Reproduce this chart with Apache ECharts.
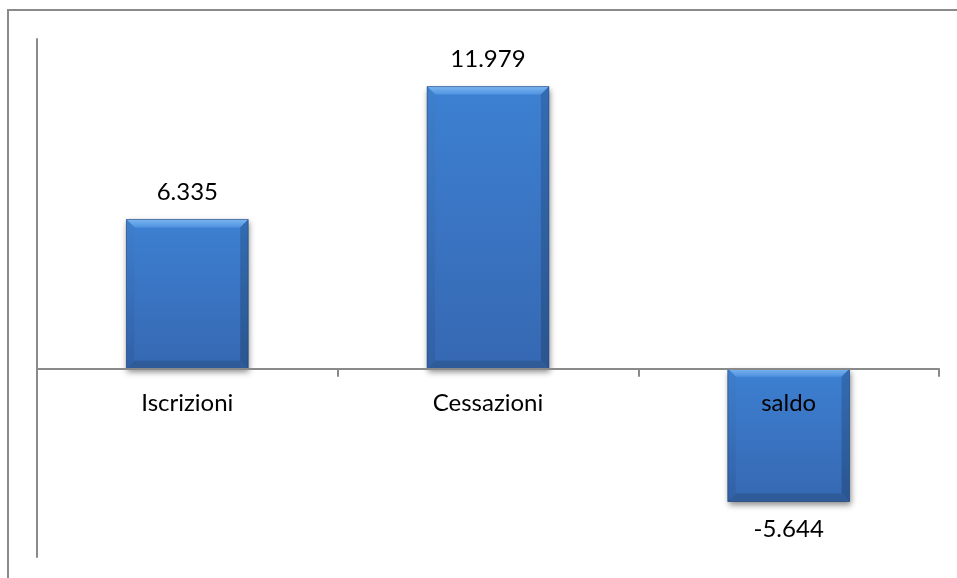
<!DOCTYPE html>
<html>
<head>
<meta charset="utf-8">
<script src="https://cdn.jsdelivr.net/npm/echarts@6/dist/echarts.min.js"></script>
<style>
html,body{margin:0;padding:0;background:#fff;}
#chart{width:957px;height:578px;}
</style>
</head>
<body>
<div id="chart"></div>
<script>
const categories = ['Iscrizioni', 'Cessazioni', 'saldo'];
const values = [6335, 11979, -5644];
const yMin = -8000;
const yMax = 14000;

function fmt(v) {
  const s = Math.abs(v).toString().replace(/\B(?=(\d{3})+(?!\d))/g, '.');
  return (v < 0 ? '-' : '') + s;
}

const FONT = 'Lato, "Open Sans", sans-serif';
const chart = echarts.init(document.getElementById('chart'));

function renderItem(params, api) {
  const ci = api.value(0);
  const v = api.value(1);
  const p0 = api.coord([ci, 0]);
  const p1 = api.coord([ci, v]);
  const w = api.size([1, 0])[0] * 0.405;
  const x0 = p0[0] - w / 2, x1 = p0[0] + w / 2;
  const yt = Math.min(p0[1], p1[1]), yb = Math.max(p0[1], p1[1]);
  const h = yb - yt;
  const b = 8;
  const children = [
    { type: 'rect', shape: { x: x0, y: yt, width: w, height: h },
      style: { fill: new echarts.graphic.LinearGradient(0, 0, 0, 1, [
        { offset: 0, color: '#3d80d2' }, { offset: 1, color: '#3668b2' }]),
        shadowColor: 'rgba(0,0,0,0.45)', shadowBlur: 6, shadowOffsetY: 3, shadowOffsetX: 1 } },
    { type: 'polygon', shape: { points: [[x0, yt], [x1, yt], [x1 - b, yt + b], [x0 + b, yt + b]] },
      style: { fill: new echarts.graphic.LinearGradient(0, 0, 0, 1, [
        { offset: 0, color: '#7ab5f0' }, { offset: 1, color: '#4f92e0' }]) } },
    { type: 'polygon', shape: { points: [[x0, yt], [x0 + b, yt + b], [x0 + b, yb - b], [x0, yb]] },
      style: { fill: new echarts.graphic.LinearGradient(0, 0, 0, 1, [
        { offset: 0, color: '#3f7fcc' }, { offset: 1, color: '#3160a6' }]) } },
    { type: 'polygon', shape: { points: [[x1, yt], [x1 - b, yt + b], [x1 - b, yb - b], [x1, yb]] },
      style: { fill: new echarts.graphic.LinearGradient(0, 0, 0, 1, [
        { offset: 0, color: '#336cb2' }, { offset: 1, color: '#2a5590' }]) } },
    { type: 'polygon', shape: { points: [[x0, yb], [x1, yb], [x1 - b, yb - b], [x0 + b, yb - b]] },
      style: { fill: '#2f5c98' } },
    { type: 'rect', shape: { x: x0, y: yt, width: w, height: h },
      style: { fill: 'none', stroke: 'rgba(30,60,110,0.5)', lineWidth: 1 } },
    { type: 'text', x: p0[0], y: v >= 0 ? yt - 15 : yb + 16,
      style: { text: fmt(v), fill: '#000', font: '24px ' + FONT, align: 'center',
        verticalAlign: v >= 0 ? 'bottom' : 'top' } },
    { type: 'text', x: p0[0], y: p0[1] + 35,
      style: { text: categories[ci], fill: '#000', font: '24px ' + FONT, align: 'center',
        verticalAlign: 'middle' } }
  ];
  return { type: 'group', children };
}

chart.setOption({
  animation: false,
  backgroundColor: '#fff',
  graphic: [{ type: 'rect', z: 100, silent: true,
    shape: { x: 8, y: 10, width: 1200, height: 1200 },
    style: { fill: 'none', stroke: '#8a8a8a', lineWidth: 2 } }],
  grid: { left: 37, right: 18, top: 39, bottom: 21, containLabel: false, outerBoundsMode: 'none' },
  xAxis: {
    type: 'category', data: categories, z: 10,
    axisLine: { onZero: true, lineStyle: { color: '#8a8a8a', width: 2 } },
    axisTick: { show: true, length: 8, lineStyle: { color: '#8a8a8a', width: 2 } },
    axisLabel: { show: false },
    splitLine: { show: false }
  },
  yAxis: {
    type: 'value', min: yMin, max: yMax,
    axisLine: { show: true, onZero: false, lineStyle: { color: '#8a8a8a', width: 2 } },
    axisTick: { show: false }, axisLabel: { show: false }, splitLine: { show: false }
  },
  series: [{
    type: 'custom', renderItem, z: 2,
    encode: { x: 0, y: 1 },
    data: values.map((v, i) => [i, v])
  }]
});
</script>
</body>
</html>
